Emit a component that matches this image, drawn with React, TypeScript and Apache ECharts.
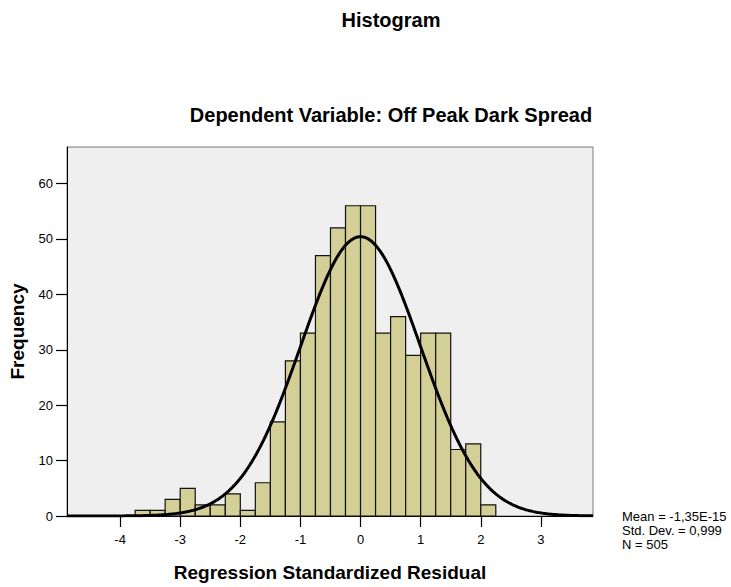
import React, { useEffect, useRef } from "react";
import * as echarts from "echarts";

// Histogram bins (lower edges) and frequencies
const binLower = [-3.75, -3.5, -3.25, -3.0, -2.75, -2.5, -2.25, -2.0, -1.75, -1.5, -1.25, -1.0, -0.75, -0.5, -0.25, 0.0, 0.25, 0.5, 0.75, 1.0, 1.25, 1.5, 1.75, 2.0];
const counts = [1, 1, 3, 5, 2, 2, 4, 1, 6, 17, 28, 33, 47, 52, 56, 56, 33, 36, 29, 33, 33, 12, 13, 2];
const binWidth = 0.25;

// Fit statistics shown in the chart
const statMean = -1.35e-15;
const statSd = 0.999;
const statN = 505;
const statLines = ["Mean = -1,35E-15", "Std. Dev. = 0,999", "N = 505"];

const xTicks = [-4, -3, -2, -1, 0, 1, 2, 3];
const yTicks = [0, 10, 20, 30, 40, 50, 60];
const xMin = -4.883;
const xMax = 3.867;
const yMax = 66.6;

const FONT = "Liberation Sans, Arial, sans-serif";

export default function App() {
  const ref = useRef<HTMLDivElement>(null);

  useEffect(() => {
    document.body.style.margin = "0";
    if (!ref.current) return;
    const chart = echarts.init(ref.current, undefined, { renderer: "svg" });

    const barData = binLower.map((lo, i) => [lo, lo + binWidth, counts[i]]);

    // Normal curve fitted with the stated mean, std. dev. and N
    const curve: number[][] = [];
    const steps = 400;
    for (let i = 0; i <= steps; i++) {
      const x = xMin + ((xMax - xMin) * i) / steps;
      const z = (x - statMean) / statSd;
      const y = (statN * binWidth) / (statSd * Math.sqrt(2 * Math.PI)) * Math.exp(-0.5 * z * z);
      curve.push([x, y]);
    }

    chart.setOption({
      animation: false,
      textStyle: { fontFamily: FONT },
      grid: {
        left: 67,
        top: 147,
        right: 138,
        bottom: 65,
        show: true,
        backgroundColor: "#EFEFEF",
        borderColor: "#7a7a7a",
        borderWidth: 1,
      },
      graphic: [
        {
          type: "text",
          x: 391,
          y: 20,
          style: { text: "Histogram", fill: "#000", font: `bold 20px ${FONT}`, textAlign: "center", textVerticalAlign: "middle" },
        },
        {
          type: "text",
          x: 391,
          y: 115,
          style: { text: "Dependent Variable: Off Peak Dark Spread", fill: "#000", font: `bold 20px ${FONT}`, textAlign: "center", textVerticalAlign: "middle" },
        },
        ...statLines.map((t, i) => ({
          type: "text",
          x: 622,
          y: 516 + i * 14,
          style: { text: t, fill: "#000", font: `13px ${FONT}`, textAlign: "left", textVerticalAlign: "middle" },
        })),
      ],
      xAxis: {
        type: "value",
        min: xMin,
        max: xMax,
        name: "Regression Standardized Residual",
        nameLocation: "middle",
        nameGap: 47,
        nameTextStyle: { fontSize: 19, fontWeight: "bold", color: "#000", fontFamily: FONT },
        axisLine: { show: true, onZero: false, lineStyle: { color: "#000", width: 1 } },
        axisTick: { show: true, length: 11, customValues: xTicks, lineStyle: { color: "#000", width: 1.2 } },
        axisLabel: { customValues: xTicks, margin: 17, fontSize: 13, color: "#000", fontFamily: FONT },
        splitLine: { show: false },
      },
      yAxis: {
        type: "value",
        min: 0,
        max: yMax,
        name: "Frequency",
        nameLocation: "middle",
        nameGap: 40,
        nameTextStyle: { fontSize: 19, fontWeight: "bold", color: "#000", fontFamily: FONT },
        axisLine: { show: true, onZero: false, lineStyle: { color: "#000", width: 1 } },
        axisTick: { show: true, length: 11, customValues: yTicks, lineStyle: { color: "#000", width: 1.2 } },
        axisLabel: { customValues: yTicks, margin: 14, fontSize: 13, color: "#000", fontFamily: FONT },
        splitLine: { show: false },
      },
      series: [
        {
          type: "custom",
          data: barData,
          encode: { x: [0, 1], y: 2 },
          renderItem: (params: any, api: any) => {
            const p0 = api.coord([api.value(0), api.value(2)]);
            const p1 = api.coord([api.value(1), 0]);
            return {
              type: "rect",
              shape: { x: p0[0], y: p0[1], width: p1[0] - p0[0], height: p1[1] - p0[1] },
              style: { fill: "#D3CF97", stroke: "#111", lineWidth: 1.2 },
            };
          },
          z: 2,
        },
        {
          type: "line",
          data: curve,
          showSymbol: false,
          symbol: "none",
          smooth: false,
          lineStyle: { color: "#000", width: 3 },
          z: 3,
          silent: true,
        },
      ],
    });

    return () => chart.dispose();
  }, []);

  return <div ref={ref} style={{ width: 731, height: 587 }} />;
}
